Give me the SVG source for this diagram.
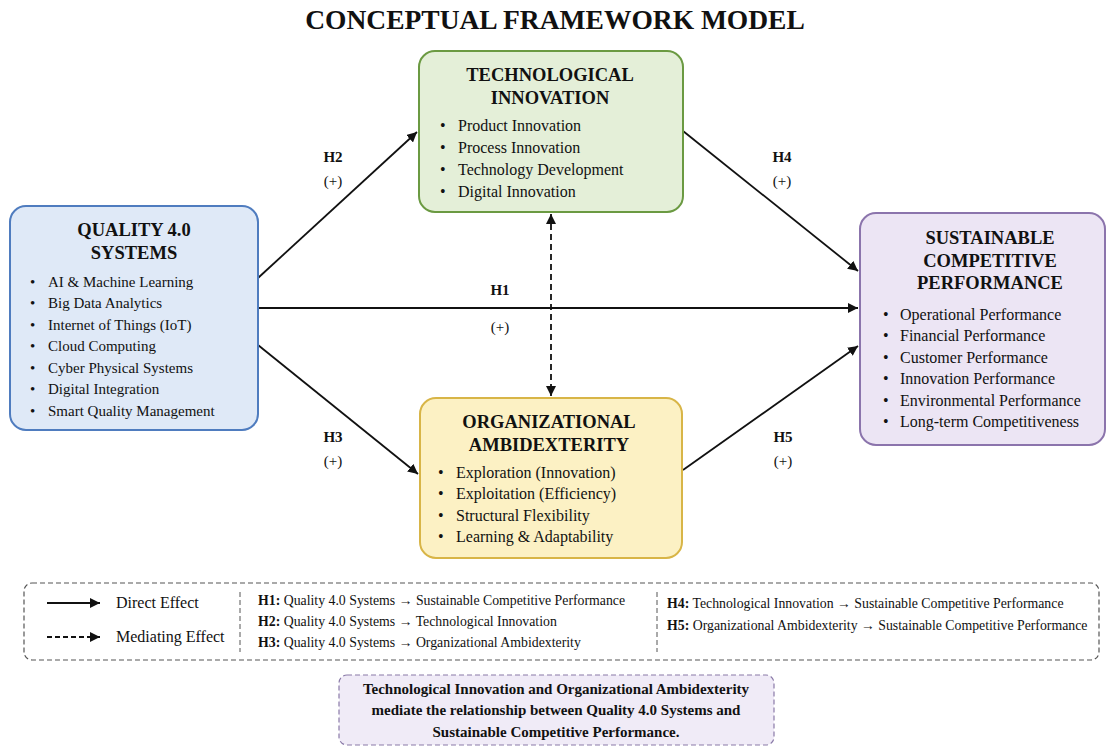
<svg xmlns="http://www.w3.org/2000/svg" width="1109" height="747" viewBox="0 0 1109 747">
<style>
text{font-family:"Liberation Serif","Times New Roman",serif;fill:#111}
.ttl{font-size:27.5px;font-weight:bold;text-anchor:middle}
.nt{font-size:18.5px;font-weight:bold;text-anchor:middle}
.b{font-size:16px}
.bq{font-size:15px}
.lbl{font-size:15px;text-anchor:middle}
.lb{font-weight:bold}
.lg{font-size:13.8px}
.le{font-size:16px}
.cc{font-size:15px;font-weight:bold;text-anchor:middle}
.ln{stroke:#111;stroke-width:1.8;fill:none}
</style>
<defs>
<marker id="ah" viewBox="0 0 10 10" refX="10" refY="5" markerWidth="10" markerHeight="10" markerUnits="userSpaceOnUse" orient="auto-start-reverse"><path d="M0,0 L10,5 L0,10 Z" fill="#111"/></marker>
<marker id="ahl" viewBox="0 0 10 10" refX="10" refY="5" markerWidth="10" markerHeight="10" orient="auto-start-reverse" markerUnits="userSpaceOnUse"><path d="M0,0 L10,5 L0,10 Z" fill="#111"/></marker>
</defs>
<rect width="1109" height="747" fill="#fff"/>
<text class="ttl" x="555" y="29">CONCEPTUAL FRAMEWORK MODEL</text>

<g id="connectors">
<line class="ln" x1="258" y1="278" x2="417" y2="132" marker-end="url(#ahl)"/>
<line class="ln" x1="258" y1="308" x2="858" y2="308" marker-end="url(#ahl)"/>
<line class="ln" x1="258" y1="345" x2="418" y2="474" marker-end="url(#ahl)"/>
<line class="ln" x1="683" y1="131" x2="858" y2="271" marker-end="url(#ahl)"/>
<line class="ln" x1="683" y1="470" x2="858" y2="346" marker-end="url(#ahl)"/>
<line class="ln" x1="551" y1="214" x2="551" y2="396" stroke-dasharray="6,4" stroke-width="1.4" marker-start="url(#ahl)" marker-end="url(#ahl)"/>
<text class="lbl lb" x="333" y="162">H2</text>
<text class="lbl" x="333" y="186">(+)</text>
<text class="lbl lb" x="782" y="162">H4</text>
<text class="lbl" x="782" y="186">(+)</text>
<text class="lbl lb" x="500" y="295">H1</text>
<text class="lbl" x="500" y="332">(+)</text>
<text class="lbl lb" x="333" y="442">H3</text>
<text class="lbl" x="333" y="466">(+)</text>
<text class="lbl lb" x="783" y="442">H5</text>
<text class="lbl" x="783" y="466">(+)</text>
</g>

<g id="quality">
<rect x="10" y="206" width="248" height="224" rx="16" fill="#dfe9f7" stroke="#4f7cbf" stroke-width="2"/>
<text class="nt" x="134" y="236">QUALITY 4.0</text>
<text class="nt" x="134" y="259">SYSTEMS</text>
<g class="bq">
<text x="30" y="287">•</text><text x="48" y="287">AI &amp; Machine Learning</text>
<text x="30" y="308">•</text><text x="48" y="308">Big Data Analytics</text>
<text x="30" y="330">•</text><text x="48" y="330">Internet of Things (IoT)</text>
<text x="30" y="351">•</text><text x="48" y="351">Cloud Computing</text>
<text x="30" y="373">•</text><text x="48" y="373">Cyber Physical Systems</text>
<text x="30" y="394">•</text><text x="48" y="394">Digital Integration</text>
<text x="30" y="416">•</text><text x="48" y="416">Smart Quality Management</text>
</g>
</g>

<g id="tech">
<rect x="419" y="51" width="264" height="161" rx="16" fill="#e4efd8" stroke="#6b9a42" stroke-width="2"/>
<text class="nt" x="550" y="81">TECHNOLOGICAL</text>
<text class="nt" x="550" y="104">INNOVATION</text>
<g class="b">
<text x="440" y="131">•</text><text x="458" y="131">Product Innovation</text>
<text x="440" y="153">•</text><text x="458" y="153">Process Innovation</text>
<text x="440" y="175">•</text><text x="458" y="175">Technology Development</text>
<text x="440" y="197">•</text><text x="458" y="197">Digital Innovation</text>
</g>
</g>

<g id="ambi">
<rect x="420" y="398" width="262" height="160" rx="16" fill="#fcf1c4" stroke="#d8b547" stroke-width="2"/>
<text class="nt" x="549" y="428">ORGANIZATIONAL</text>
<text class="nt" x="549" y="451">AMBIDEXTERITY</text>
<g class="b">
<text x="438" y="478">•</text><text x="456" y="478">Exploration (Innovation)</text>
<text x="438" y="499">•</text><text x="456" y="499">Exploitation (Efficiency)</text>
<text x="438" y="521">•</text><text x="456" y="521">Structural Flexibility</text>
<text x="438" y="542">•</text><text x="456" y="542">Learning &amp; Adaptability</text>
</g>
</g>

<g id="scp">
<rect x="860" y="213" width="245" height="232" rx="16" fill="#ece5f4" stroke="#8b74ac" stroke-width="2"/>
<text class="nt" x="990" y="244">SUSTAINABLE</text>
<text class="nt" x="990" y="267">COMPETITIVE</text>
<text class="nt" x="990" y="289">PERFORMANCE</text>
<g class="b">
<text x="883" y="320">•</text><text x="900" y="320">Operational Performance</text>
<text x="883" y="341">•</text><text x="900" y="341">Financial Performance</text>
<text x="883" y="363">•</text><text x="900" y="363">Customer Performance</text>
<text x="883" y="384">•</text><text x="900" y="384">Innovation Performance</text>
<text x="883" y="406">•</text><text x="900" y="406">Environmental Performance</text>
<text x="883" y="427">•</text><text x="900" y="427">Long-term Competitiveness</text>
</g>
</g>

<g id="legend">
<rect x="24" y="583" width="1075" height="77" rx="8" fill="#fff" stroke="#555" stroke-width="1.2" stroke-dasharray="5,3"/>
<line class="ln" x1="47" y1="603" x2="100" y2="603" marker-end="url(#ah)" stroke-width="1.6"/>
<text class="le" x="116" y="608">Direct Effect</text>
<line class="ln" x1="47" y1="637" x2="100" y2="637" stroke-dasharray="5,3" marker-end="url(#ah)" stroke-width="1.4"/>
<text class="le" x="116" y="642">Mediating Effect</text>
<line x1="240" y1="592" x2="240" y2="652" stroke="#555" stroke-width="1" stroke-dasharray="5,3"/>
<text class="lg" x="258" y="605"><tspan class="lb">H1:</tspan> Quality 4.0 Systems → Sustainable Competitive Performance</text>
<text class="lg" x="258" y="626"><tspan class="lb">H2:</tspan> Quality 4.0 Systems → Technological Innovation</text>
<text class="lg" x="258" y="647"><tspan class="lb">H3:</tspan> Quality 4.0 Systems → Organizational Ambidexterity</text>
<line x1="657" y1="592" x2="657" y2="652" stroke="#555" stroke-width="1" stroke-dasharray="5,3"/>
<text class="lg" x="667" y="608"><tspan class="lb">H4:</tspan> Technological Innovation → Sustainable Competitive Performance</text>
<text class="lg" x="667" y="630"><tspan class="lb">H5:</tspan> Organizational Ambidexterity → Sustainable Competitive Performance</text>
</g>

<g id="conclusion">
<rect x="339" y="675" width="435" height="70" rx="8" fill="#f0ebf7" stroke="#8a7aa8" stroke-width="1.2" stroke-dasharray="5,3"/>
<text class="cc" x="556" y="694">Technological Innovation and Organizational Ambidexterity</text>
<text class="cc" x="556" y="715">mediate the relationship between Quality 4.0 Systems and</text>
<text class="cc" x="556" y="737">Sustainable Competitive Performance.</text>
</g>
</svg>
